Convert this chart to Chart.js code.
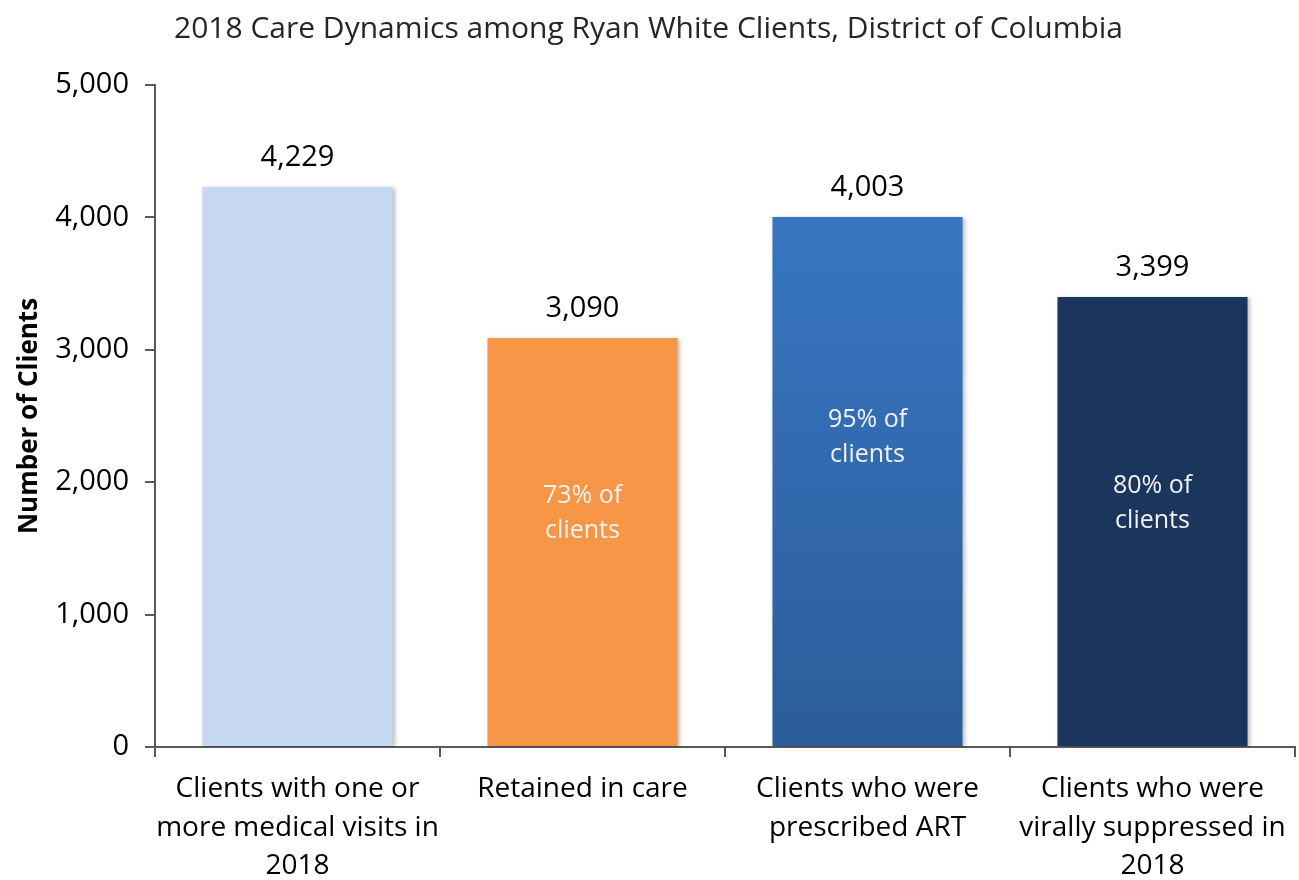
<!DOCTYPE html>
<html>
<head>
<meta charset="utf-8">
<script src="https://cdn.jsdelivr.net/npm/chart.js@4.4.0/dist/chart.umd.min.js"></script>
<style>
  html, body { margin: 0; padding: 0; background: #fff; }
  #wrap { width: 1299px; height: 880px; }
</style>
</head>
<body>
<div id="wrap"><canvas id="myChart" width="1299" height="880"></canvas></div>
<script>
// chart data
var categories = [
  ['Clients with one or', 'more medical visits in', '2018'],
  'Retained in care',
  ['Clients who were', 'prescribed ART'],
  ['Clients who were', 'virally suppressed in', '2018']
];
var clients = [4229, 3090, 4003, 3399];
var shareLabels = ['', '73% of clients', '95% of clients', '80% of clients'];
var yTicks = [0, 1000, 2000, 3000, 4000, 5000];

var fontName = "'Open Sans', 'Noto Sans', sans-serif";
var axisColor = '#595959';

function barColor(ctx) {
  var i = ctx.dataIndex;
  if (i === 0) return '#c6d9f0';
  if (i === 1) return '#f79646';
  if (i === 3) return '#1b365d';
  var area = ctx.chart.chartArea;
  if (!area) return '#3670bd';
  var g = ctx.chart.ctx.createLinearGradient(0, area.top, 0, area.bottom);
  g.addColorStop(0, '#3b7ccc');
  g.addColorStop(1, '#2c5d9a');
  return g;
}

// where the white text sits inside the bars (value units)
var innerPos = [null, 1767, 2341, 1843];

var labelPlugin = {
  id: 'barLabels',
  afterDatasetsDraw: function(chart) {
    var c = chart.ctx;
    var meta = chart.getDatasetMeta(0);
    var yScale = chart.scales.y;
    c.save();
    c.textAlign = 'center';
    c.textBaseline = 'middle';
    meta.data.forEach(function(bar, i) {
      c.font = '29px ' + fontName;
      c.fillStyle = '#000';
      c.fillText(clients[i].toLocaleString('en-US'), bar.x, bar.y - 29);
      if (shareLabels[i]) {
        var words = shareLabels[i].split(' ');
        var l1 = words.slice(0, 2).join(' ');
        var l2 = words.slice(2).join(' ');
        var cy = yScale.getPixelForValue(innerPos[i]);
        c.font = '25px ' + fontName;
        c.fillStyle = '#f2f2f2';
        c.fillText(l1, bar.x, cy - 17);
        c.fillText(l2, bar.x, cy + 18);
      }
    });
    c.restore();
  }
};

var shadowPlugin = {
  id: 'barShadow',
  beforeDatasetsDraw: function(chart) {
    var c = chart.ctx;
    c.save();
    c.shadowColor = 'rgba(0,0,0,0.25)';
    c.shadowBlur = 4;
    c.shadowOffsetX = 2;
    c.shadowOffsetY = 1;
  },
  afterDatasetsDraw: function(chart) {
    chart.ctx.restore();
  }
};

Chart.defaults.font.family = fontName;
Chart.defaults.color = '#000';

new Chart(document.getElementById('myChart'), {
  type: 'bar',
  data: {
    labels: categories,
    datasets: [{
      label: 'Number of Clients',
      data: clients,
      backgroundColor: barColor,
      categoryPercentage: 1,
      barPercentage: 0.667
    }]
  },
  options: {
    responsive: false,
    animation: false,
    layout: { padding: { left: 0, right: 2, top: 0, bottom: 0 } },
    plugins: {
      legend: { display: false },
      tooltip: { enabled: false },
      title: {
        display: true,
        text: '2018 Care Dynamics among Ryan White Clients, District of Columbia',
        color: '#262626',
        font: { size: 30, weight: 'normal', lineHeight: 1.2 },
        padding: { top: 11, bottom: 38 }
      }
    },
    scales: {
      x: {
        offset: true,
        grid: { display: true, drawOnChartArea: false, offset: true, tickLength: 10, color: axisColor, lineWidth: 2 },
        border: { color: axisColor, width: 2 },
        ticks: { font: { size: 28, lineHeight: 1.375 }, color: '#000', padding: 13, maxRotation: 0, autoSkip: false },
        afterFit: function(s) { s.height = 133; }
      },
      y: {
        min: 0,
        max: 5000,
        afterBuildTicks: function(s) { s.ticks = yTicks.map(function(v) { return { value: v }; }); },
        grid: { display: true, drawOnChartArea: false, tickLength: 10, color: axisColor, lineWidth: 2 },
        border: { color: axisColor, width: 2 },
        ticks: {
          font: { size: 29 }, color: '#000', padding: 16,
          callback: function(v) { return v.toLocaleString('en-US'); }
        },
        title: { display: true, text: 'Number of Clients', font: { size: 26, weight: 'bold' }, color: '#000', padding: { top: 14, bottom: 0 } },
        afterFit: function(s) { s.width = 155; }
      }
    }
  },
  plugins: [shadowPlugin, labelPlugin]
});
</script>
</body>
</html>
